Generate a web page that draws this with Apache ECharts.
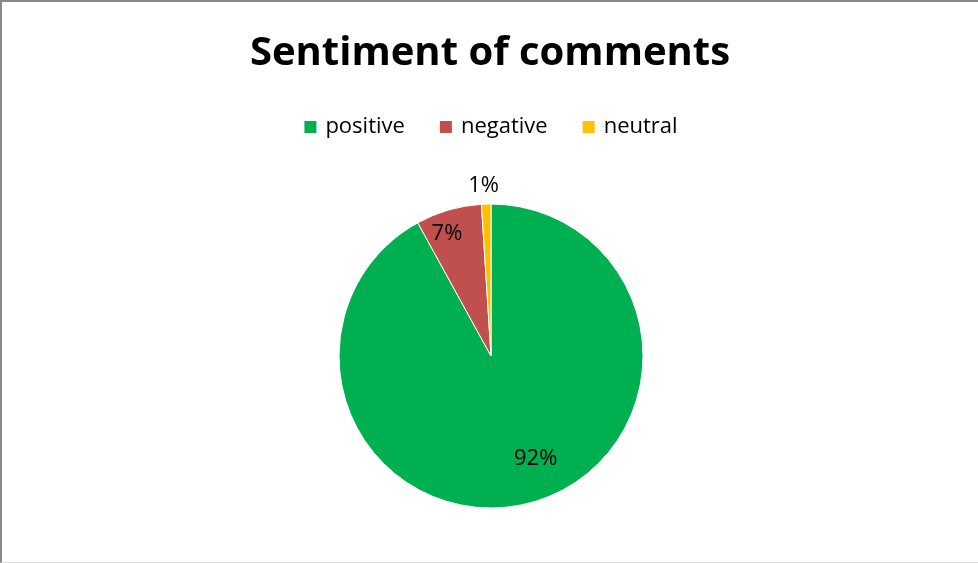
<!DOCTYPE html>
<html lang="en">
<head>
    <meta charset="UTF-8">
    <title>Sentiment of comments</title>
    <script src="https://cdn.jsdelivr.net/npm/echarts@6/dist/echarts.min.js"></script>
    <style>
        *{
            margin:0;
            padding:0;
        }
        html,body{
            height:100%;
            width:100%;
            background:#fff;
        }
        #chart{
            height:563px;
            width:978px;
            box-sizing:border-box;
            border-top:2px solid #888;
            border-left:2px solid #888;
            border-bottom:1px solid #ddd;
        }
    </style>
</head>
<body>
    <div id="chart"></div>
    <script>
        var categories=["positive","negative","neutral"];
        var values=[92,7,1];//percent
        var colors=["#00B050","#C0504D","#FFC000"];
        // label shifts from the inside position, to sit like excel's best fit
        var labelShift=[[25,26],[-22,-46],[-5,-91]];

        var pieData=[];
        for(var i=0;i<categories.length;i++){
            pieData.push({
                name:categories[i],
                value:values[i],
                itemStyle:{color:colors[i]}
            });
        }

        var myCharts=echarts.init(document.getElementById("chart"));
        var option={
            animation:false,
            title:{
                text:"Sentiment of comments",
                left:"center",
                top:27,
                textStyle:{
                    fontFamily:"Open Sans",
                    fontSize:40,
                    fontWeight:"bold",
                    color:"#000"
                }
            },
            legend:{
                top:109,
                left:"center",
                itemWidth:14,
                itemHeight:14,
                itemGap:33,
                icon:"rect",
                data:categories,
                textStyle:{
                    fontFamily:"Open Sans",
                    fontSize:22,
                    color:"#000",
                    padding:[0,0,0,3]
                }
            },
            series:[
                {
                    type:"pie",
                    center:[489,354],
                    radius:152,
                    startAngle:90,
                    clockwise:true,
                    data:pieData,
                    itemStyle:{
                        borderColor:"#fff",
                        borderWidth:1
                    },
                    label:{
                        show:true,
                        position:"inside",
                        formatter:"{d}%",
                        fontFamily:"Open Sans",
                        fontSize:22,
                        color:"#000"
                    },
                    labelLine:{show:false},
                    labelLayout:function(params){
                        var s=labelShift[params.dataIndex];
                        return {dx:s[0],dy:s[1]};
                    },
                    emphasis:{disabled:true}
                }
            ]
        };
        myCharts.setOption(option);
    </script>
</body>
</html>
